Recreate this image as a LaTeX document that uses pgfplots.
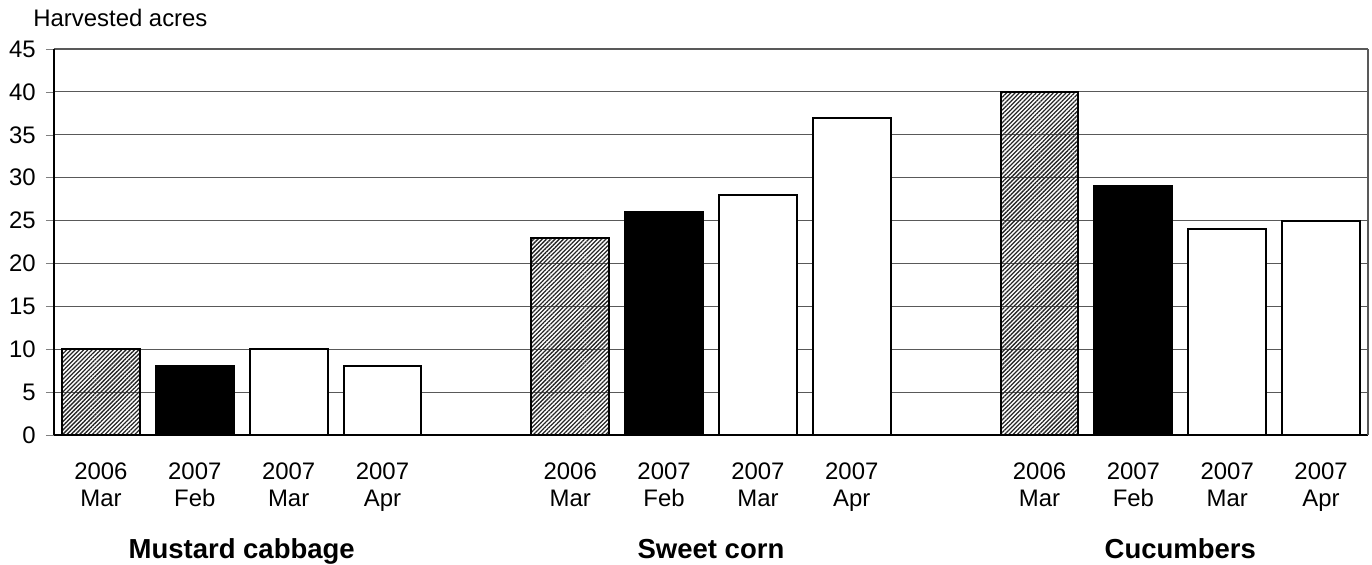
\documentclass[border=0pt]{standalone}
\usepackage{fontspec}
\setmainfont{Liberation Sans}
\usepackage{pgfplots}
\pgfplotsset{compat=1.18}
\usetikzlibrary{patterns.meta}

\begin{document}
\fontsize{12}{14}\selectfont
\begin{tikzpicture}
\begin{axis}[
    scale only axis,
    width=657bp, height=193bp,
    xmin=-0.5, xmax=13.5,
    ymin=0, ymax=45,
    ytick={0,5,...,45},
    xtick={0,1,2,3,5,6,7,8,10,11,12,13},
    xticklabels={{2006\\Mar},{2007\\Feb},{2007\\Mar},{2007\\Apr},
                 {2006\\Mar},{2007\\Feb},{2007\\Mar},{2007\\Apr},
                 {2006\\Mar},{2007\\Feb},{2007\\Mar},{2007\\Apr}},
    xticklabel style={align=center, anchor=north, inner sep=0pt, yshift=-9.5bp, font=\fontsize{12}{14}\selectfont},
    yticklabel style={font=\fontsize{12}{14}\selectfont, /pgf/number format/assume math mode=true, xshift=-1bp},
    x tick style={draw=none},
    ytick pos=left,
    tick align=outside,
    major tick length=4bp,
    ymajorgrids,
    grid style={line width=0.6pt, draw=black!65},
    axis line style={line width=0.6pt, draw=black},
    axis x line*=bottom,
    axis y line*=left,
    ybar, bar width=0.83,
    every axis plot/.append style={bar shift=0pt, draw=black, line width=1bp},
    clip=false,
]
% right border
\draw[line width=0.6pt, black!65] (rel axis cs:1,0) -- (rel axis cs:1,1);
% 2006 Mar (hatched)
\addplot[pattern={Lines[angle=45,distance=1.5bp,line width=0.65bp]}, pattern color=black!85]
    coordinates {(0,10) (5,23) (10,40)};
% 2007 Feb (black)
\addplot[fill=black] coordinates {(1,8) (6,26) (11,29)};
% 2007 Mar (white)
\addplot[fill=white] coordinates {(2,10) (7,28) (12,24)};
% 2007 Apr (white)
\addplot[fill=white] coordinates {(3,8) (8,37) (13,25)};

\coordinate (O) at (rel axis cs:0,0);
\node[anchor=base, font=\bfseries\fontsize{13.8}{16}\selectfont] at ([yshift=-61.5bp]axis cs:1.5,0) {Mustard cabbage};
\node[anchor=base, font=\bfseries\fontsize{13.8}{16}\selectfont] at ([yshift=-61.5bp]axis cs:6.5,0) {Sweet corn};
\node[anchor=base, font=\bfseries\fontsize{13.8}{16}\selectfont] at ([yshift=-61.5bp]axis cs:11.5,0) {Cucumbers};
\end{axis}
\node[anchor=base west, inner sep=0pt] at ([xshift=-10.5bp, yshift=204bp]O) {Harvested acres};
\pgfresetboundingbox
\path (O) ++(-27bp,-65bp) rectangle ++(686bp,282.5bp);
\end{tikzpicture}
\end{document}
